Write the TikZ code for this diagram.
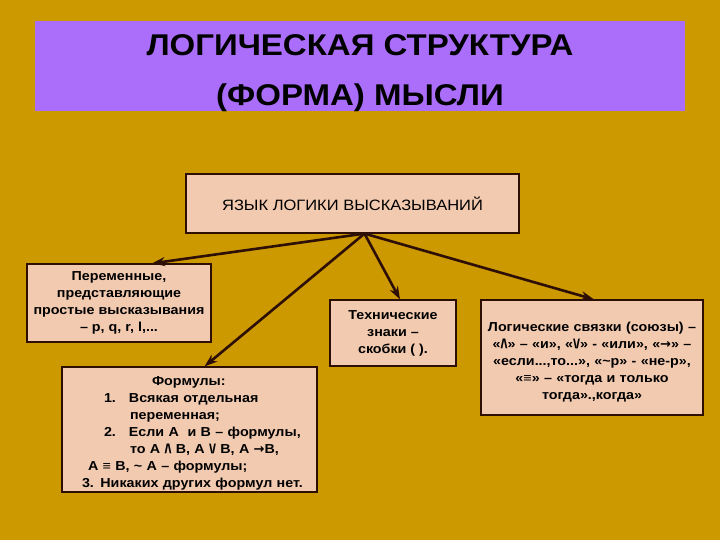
\documentclass[tikz,border=0pt]{standalone}
\usepackage{fontspec}
\setmainfont{Liberation Sans}[FakeStretch=1.1]
\newfontfamily\arrowfont{DejaVu Sans}
\usetikzlibrary{arrows.meta,calc}
\definecolor{bggold}{RGB}{204,153,0}
\definecolor{titlepurple}{RGB}{170,110,250}
\definecolor{boxpeach}{RGB}{242,202,176}
\definecolor{linedark}{RGB}{45,15,5}
\tikzset{
    infobox/.style={draw=linedark, line width=1.2pt, fill=boxpeach, inner sep=2pt, align=center,
        font=\fontsize{13}{17}\selectfont\bfseries},
    linkarrow/.style={draw=linedark, line width=2.6pt, -{Stealth[length=13pt,width=9pt]}}
}
\newcommand{\andsign}{/\kern-1pt\textbackslash}
\newcommand{\orsign}{\textbackslash\kern-1pt/}
\newcommand{\implsign}{{\arrowfont\bfseries →}}
\begin{document}
\begin{tikzpicture}[x=1pt, y=-1pt]
        \useasboundingbox (0,0) rectangle (720,540);
        \fill[bggold] (0,0) rectangle (720,540);

        \fill[titlepurple] (35,21) rectangle (685,111);
        \node[align=center, font=\fontsize{30}{50}\selectfont\bfseries] (title) at (360,73)
            {ЛОГИЧЕСКАЯ СТРУКТУРА\\(ФОРМА) МЫСЛИ};

        \node[infobox, minimum width=333pt, minimum height=59pt,
            font=\fontsize{15}{17}\selectfont] (lang) at (352.5,203.5)
            {ЯЗЫК ЛОГИКИ ВЫСКАЗЫВАНИЙ};
        \coordinate (hub) at ([xshift=12pt]lang.south);

        \node[infobox, minimum width=184pt, minimum height=78pt] (vars) at (119,303)
            {Переменные,\\представляющие\\простые высказывания\\– p, q, r, l,...};

        \node[infobox, minimum width=255pt, minimum height=125pt, text width=251pt, align=left,
            inner ysep=1pt, text height=17pt, text depth=106pt] (forms) at (189.5,429.5)
            {\hspace*{88pt}Формулы:\\
             \hspace*{40pt}1.\hspace{13pt}Всякая отдельная\\
             \hspace*{66pt}переменная;\\
             \hspace*{40pt}2.\hspace{13pt}Если A\ \ и B – формулы,\\
             \hspace*{66pt}то A \andsign\ B, A \orsign\ B, A \implsign B,\\
             \hspace*{24pt}A ≡ B, \textasciitilde\ A – формулы;\\
             \hspace*{18pt}3. Никаких других формул нет.};

        \node[infobox, minimum width=126pt, minimum height=66pt] (tech) at (393,333)
            {Технические\\знаки –\\скобки ( ).};

        \node[infobox, minimum width=222pt, minimum height=115pt, text width=218pt,
            inner ysep=0pt, text height=31.5pt, text depth=83.5pt] (links) at (592,357.5)
            {Логические связки (союзы) –\\
             «\andsign» – «и», «\orsign» - «или», «\implsign» –\\
             «если...,то...», «\textasciitilde р» - «не-р»,\\
             «≡» – «тогда и только\\
             тогда».,когда»};

        \draw[linkarrow] (hub) -- ([xshift=33pt]vars.north);
        \draw[linkarrow] (hub) -- ([xshift=15pt]forms.north);
        \draw[linkarrow] (hub) -- ([xshift=7pt]tech.north);
        \draw[linkarrow] (hub) -- ([xshift=2pt]links.north);
\end{tikzpicture}
\end{document}
